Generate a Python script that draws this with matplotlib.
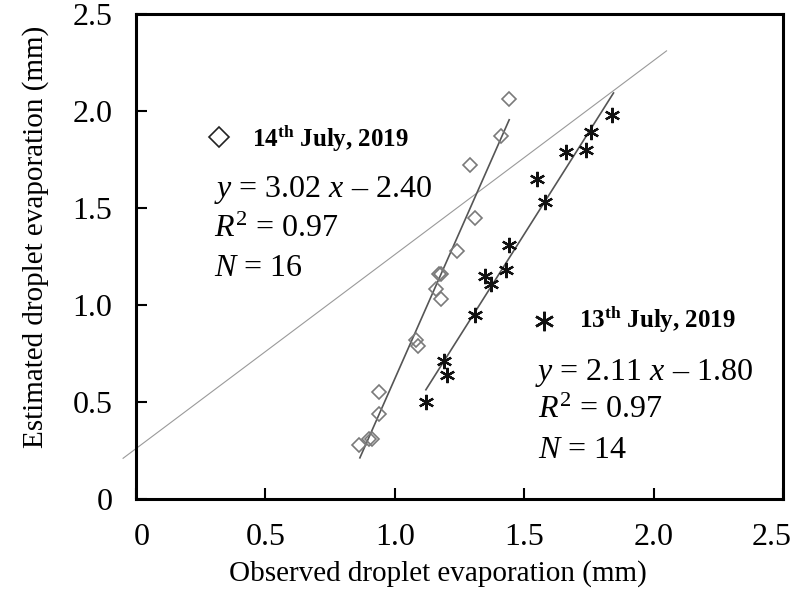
import numpy as np
import matplotlib.pyplot as plt
import matplotlib.transforms as mtransforms

plt.rcParams['font.family'] = ['Liberation Serif', 'DejaVu Serif']
plt.rcParams['mathtext.fontset'] = 'custom'
plt.rcParams['mathtext.rm'] = 'Liberation Serif'
plt.rcParams['mathtext.it'] = 'Liberation Serif:italic'
plt.rcParams['mathtext.bf'] = 'Liberation Serif:bold'

# 14th July, 2019 (diamonds)
obs_14 = [0.86, 0.90, 0.91, 0.94, 0.94, 1.08, 1.09, 1.16, 1.18, 1.17, 1.18, 1.24, 1.31, 1.29, 1.41, 1.44]
est_14 = [0.28, 0.31, 0.31, 0.44, 0.55, 0.82, 0.79, 1.08, 1.03, 1.16, 1.16, 1.28, 1.45, 1.72, 1.87, 2.06]

# 13th July, 2019 (asterisks)
obs_13 = [1.12, 1.19, 1.20, 1.31, 1.35, 1.37, 1.43, 1.44, 1.55, 1.58, 1.66, 1.74, 1.76, 1.84]
est_13 = [0.50, 0.71, 0.64, 0.95, 1.15, 1.11, 1.18, 1.31, 1.65, 1.53, 1.79, 1.80, 1.89, 1.98]

# regression lines: slope, intercept, x range
fit_14 = [3.02, -2.40]
fit_14_x = [0.865, 1.442]
fit_13 = [2.11, -1.80]
fit_13_x = [1.12, 1.845]

# thin reference line
ref_x = [-0.05, 2.05]
ref_y = [0.21, 2.31]

ticks = [0, 0.5, 1.0, 1.5, 2.0, 2.5]
tick_labels = ['0', '0.5', '1.0', '1.5', '2.0', '2.5']

fig = plt.figure(figsize=(7.95, 5.94), dpi=100)
ax = fig.add_axes([0.1711, 0.1599, 0.8138, 0.8165])

ax.plot(ref_x, ref_y, color='#9a9a9a', lw=0.8, clip_on=False, zorder=1)

x14 = np.array(fit_14_x)
ax.plot(x14, fit_14[0] * x14 + fit_14[1], color='#555555', lw=1.2, zorder=2)
x13 = np.array(fit_13_x)
ax.plot(x13, fit_13[0] * x13 + fit_13[1], color='#555555', lw=1.2, zorder=2)

ax.plot(obs_14, est_14, ls='none', marker='D', ms=7, mfc='none', mec='#7a7a7a', mew=1.2, zorder=3)
ax.plot(obs_13, est_13, ls='none', marker=(6, 2, 0), ms=11, mec='#111111', mew=1.6, zorder=3)

# annotations
ax.plot([0.128], [0.746], transform=ax.transAxes, marker='D', ms=10, mfc='none', mec='#222222', mew=1.2)
ax.text(0.180, 0.728, r'14$^{\mathbf{th}}$ July, 2019', transform=ax.transAxes,
        fontsize=18, fontweight='bold', va='baseline')
ax.text(0.1206, 0.623, r'$y$ = 3.02 $x$ – 2.40', transform=ax.transAxes, fontsize=23, va='baseline')
ax.text(0.1206, 0.540, r'$R^2$ = 0.97', transform=ax.transAxes, fontsize=23, va='baseline')
ax.text(0.1206, 0.460, r'$N$ = 16', transform=ax.transAxes, fontsize=23, va='baseline')

ax.plot([0.631], [0.368], transform=ax.transAxes, marker=(6, 2, 0), ms=14, mec='#111111', mew=1.8)
ax.text(0.685, 0.355, r'13$^{\mathbf{th}}$ July, 2019', transform=ax.transAxes,
        fontsize=18, fontweight='bold', va='baseline')
ax.text(0.617, 0.245, r'$y$ = 2.11 $x$ – 1.80', transform=ax.transAxes, fontsize=23, va='baseline')
ax.text(0.621, 0.167, r'$R^2$ = 0.97', transform=ax.transAxes, fontsize=23, va='baseline')
ax.text(0.621, 0.085, r'$N$ = 14', transform=ax.transAxes, fontsize=23, va='baseline')

ax.set_xlim(0, 2.5)
ax.set_ylim(0, 2.5)
ax.set_xticks(ticks)
ax.set_xticklabels(tick_labels)
ax.set_yticks(ticks)
ax.set_yticklabels(tick_labels)
ax.tick_params(direction='in', length=8, width=1.5, labelsize=23, pad=17)

# end labels sit a little off their ticks in the original
shift_px = {'0': 6, '2.5': -11}
for lab in ax.get_xticklabels():
    dx = shift_px.get(lab.get_text(), 0)
    if dx:
        off = mtransforms.ScaledTranslation(dx / 100, 0, fig.dpi_scale_trans)
        lab.set_transform(lab.get_transform() + off)

for s in ax.spines.values():
    s.set_linewidth(2.2)

ax.set_xlabel('Observed droplet evaporation (mm)', fontsize=21)
ax.set_ylabel('Estimated droplet evaporation (mm)', fontsize=21)
ax.xaxis.set_label_coords(0.467, -0.125)
ax.yaxis.set_label_coords(-0.134, 0.54)

fig.savefig('out.png', dpi=100)
